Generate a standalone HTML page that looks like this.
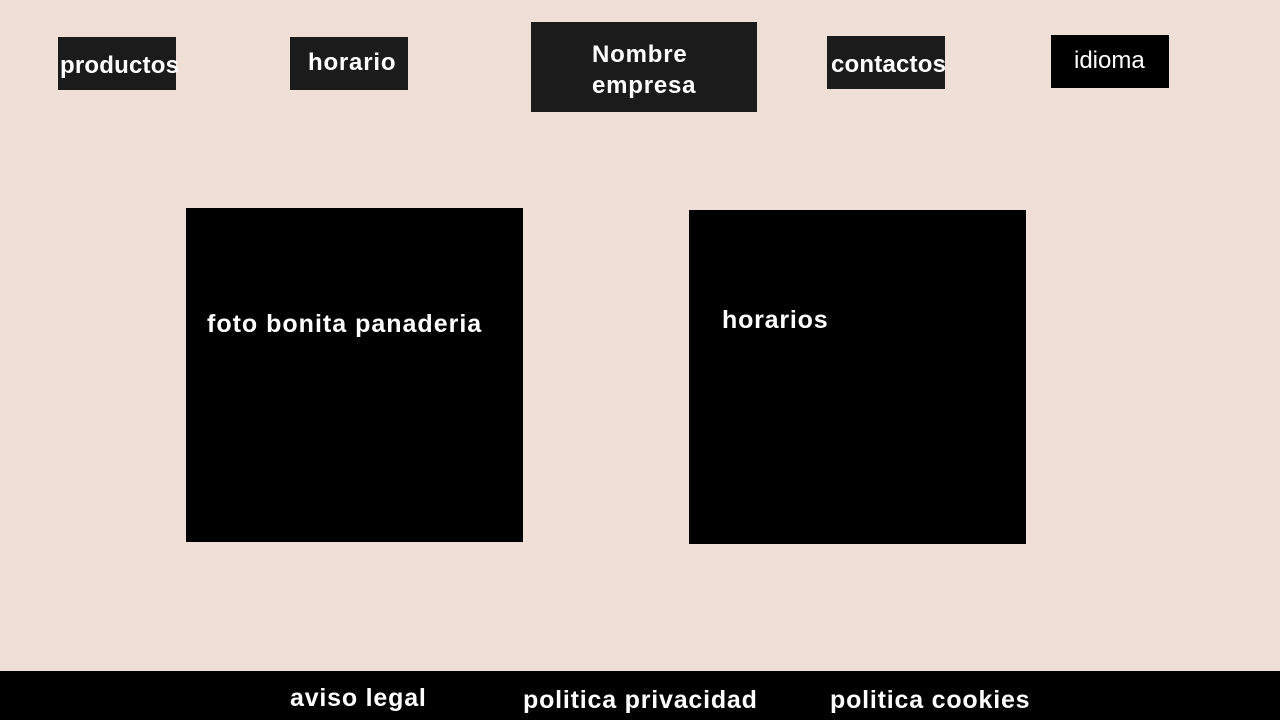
<!DOCTYPE html>
<html><head><meta charset="utf-8"><style>
body{margin:0;width:1280px;height:720px;background:#efdfd6;position:relative;overflow:hidden;font-family:"Liberation Sans",sans-serif}
.b{position:absolute;background:#1b1b1b;color:#fff;font-weight:bold;font-size:25px;white-space:nowrap;overflow:visible}
.k{position:absolute;background:#000;color:#fff;font-weight:bold;font-size:25px;white-space:nowrap}
.t{position:absolute;color:#fff;font-weight:bold;white-space:nowrap;letter-spacing:0.8px}
</style></head><body>
<div class="b" style="left:58px;top:37px;width:118px;height:53px"><span class="t" style="left:2px;top:15px;font-size:24px;letter-spacing:0.2px">productos</span></div>
<div class="b" style="left:290px;top:37px;width:118px;height:53px"><span class="t" style="left:18px;top:12px;font-size:24px">horario</span></div>
<div class="b" style="left:531px;top:22px;width:226px;height:90px"><span class="t" style="left:61px;top:17px;font-size:24px;line-height:31px">Nombre<br>empresa</span></div>
<div class="b" style="left:827px;top:36px;width:118px;height:53px"><span class="t" style="left:4px;top:15px;font-size:24px;letter-spacing:0.2px">contactos</span></div>
<div class="k" style="left:1051px;top:35px;width:118px;height:53px"><span class="t" style="left:23px;top:12px;font-size:24px;font-weight:normal;letter-spacing:0">idioma</span></div>
<div class="k" style="left:186px;top:208px;width:337px;height:334px"><span class="t" style="left:21px;top:102px;font-size:25px;letter-spacing:1px">foto bonita panaderia</span></div>
<div class="k" style="left:689px;top:210px;width:337px;height:334px"><span class="t" style="left:33px;top:96px;font-size:25px">horarios</span></div>
<div class="k" style="left:0;top:671px;width:1280px;height:49px">
<span class="t" style="left:290px;top:13px;font-size:25px">aviso legal</span>
<span class="t" style="left:523px;top:15px;font-size:25px">politica privacidad</span>
<span class="t" style="left:830px;top:15px;font-size:25px">politica cookies</span>
</div>
</body></html>
